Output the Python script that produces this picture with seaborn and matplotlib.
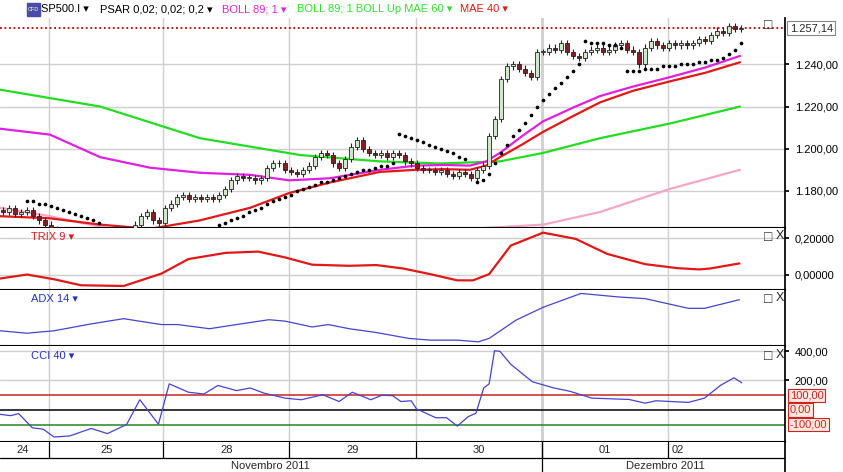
import numpy as np
import pandas as pd
import matplotlib
matplotlib.use("Agg")
import matplotlib.pyplot as plt
import seaborn as sns

sns.set_theme(style="white")
plt.rcParams["font.family"] = ["Liberation Sans", "DejaVu Sans"]

# ---------------- data ----------------
closes = [1170,1172,1169,1170,1171,1168,1166,1164,
          1162,1161,1160,1160,1159,1158,1158,1159,1160,1160,1161,1162,1161,1160,1164,1168,1170,1166,1165,
          1172,1174,1177,1178,1176,1177,1176,1177,1176,1178,1181,1185,1187,1186,1186,1185,1186,1191,1193,1193,1190,
          1189,1188,1190,1192,1196,1198,1197,1193,1191,1195,1201,1204,1200,1198,1197,1198,1196,1198,1197,1194,1193,
          1191,1190,1190,1189,1190,1188,1187,1189,1188,1186,1190,1192,1206,1214,1233,1239,1240,1238,1236,1234,1246,
          1246,1248,1247,1250,1246,1244,1243,1246,1247,1248,1246,1247,1249,1250,1247,1246,1240,1248,1251,1249,1248,
          1250,1249,1250,1249,1250,1252,1251,1254,1256,1255,1258,1257,1257]
first_open = 1171

ma_x = [-0.5,7.8,16.2,24.5,32.8,41.2,47.7,54.5,62.8,68.8,73.5,77.8,80.5,82.8,86.5,90,95,99.5,105,111.2,117,122.8]
mae40 = [1168,1167,1164,1162,1166,1172,1179,1184,1189,1190,1190.3,1190,1192,1196,1202,1208,1215.5,1222,1227.5,1232,1236,1241]
boll_mid = [1209.5,1206.7,1196,1191,1188.6,1187.6,1185,1186,1190,1192,1192.3,1192,1194,1198,1206,1213,1219.5,1225,1229.5,1234,1238.5,1244]
boll_up_x = [-0.5,16.2,32.8,49.5,62.8,72.8,82.8,90,99.5,111.2,122.8]
boll_up = [1228,1220,1205,1197,1194,1193,1194,1198,1205,1212,1220]
boll_low_x = [-0.5,7.8,16.2,24.5,77.8,90,99.5,111.2,122.8]
boll_low = [1172,1168,1163,1159,1162,1164,1170,1181,1190]

psar_segments = [
    (4, [1175,1175,1174,1174,1173,1172,1171,1170,1169,1168,1167,1166,1165]),
    (36, [1164,1165,1166,1167,1168,1170,1171,1172,1174,1175,1176,1177,1178,1180,1181,1182,1183,1184,1184,1185,
          1186,1187,1188,1189,1190,1190,1191,1192,1192,1193]),
    (66, [1207,1206,1205,1204,1203,1202,1201,1200,1199,1198,1196,1195]),
    (79, [1184,1185,1188,1193,1198,1202,1206,1209,1212,1216,1220,1223,1226,1229,1231,1234,1237,1240]),
    (97, [1251,1250,1250,1250,1249,1249,1248]),
    (104, [1237,1237,1237,1238,1238,1238,1239,1239,1239,1240,1240,1240,1241,1241,1242,1242,1243,1245,1247,1250]),
]

trix_x = [-0.5,4,8.5,13,20.1,26.4,30.9,37.1,42.5,47,51.5,57.7,62.2,66.7,71.2,75.7,78.3,81,84.6,90,95.4,100.7,107,112.4,116,117.8,122.7]
trix = [-0.022,0,-0.026,-0.059,-0.063,0.005,0.085,0.119,0.126,0.094,0.054,0.048,0.052,0.033,0.002,-0.032,-0.032,0.002,0.159,0.230,0.196,0.113,0.057,0.035,0.028,0.033,0.061]

adx_x = [-0.5,4,8.5,14.7,20.1,26.4,29.1,34.4,38.9,44.3,47,51.5,54.2,57.7,62.2,67.6,71.2,75.7,79.2,81,85.5,90,96.3,102.5,107,114.2,116.9,122.7]
adx = [11,9.25,11,16,19.75,15.5,15.5,12.5,15.5,19,18,13.75,15.5,12.5,9.75,5.5,4.25,4.25,3,5.5,18.75,28,38,35.5,34.25,27.25,27.25,33.5]

cci_x = [-0.5,1.3,2.6,4.9,6.7,8.5,11.1,14.7,17.4,20.6,22.8,25.9,27.7,30.9,33.5,35.8,38.9,41.2,43.4,47,49.7,53.3,56,58.2,61.3,63.1,64.9,66.3,68.0,68.9,72.1,73.9,75.7,77.5,78.8,80.1,81,81.9,82.8,84.6,88.2,91.8,94.5,98.1,104.3,107,108.8,114.2,116.9,119.6,121.8,123.1]
cci = [-30,-39,-25,-122,-131,-184,-177,-126,-161,-99,69,-97,177,120,108,166,131,149,115,80,69,103,57,120,69,99,97,57,62,7,-53,-53,-110,-46,-23,149,177,402,398,310,191,149,126,80,71,46,62,51,80,168,218,184]

day_bounds = [7.7,26.7,47.7,68.8,89.8,110.8]
day_labels = ["24","25","28","29","30","01","02"]
day_label_x = [3.2,17.2,37.2,58.2,79.2,100.2,112.5]
month_labels = ["Novembro 2011","Dezembro 2011"]
month_label_x = [44.5,110.3]

last_price = 1257.14
main_ticks = [1180,1200,1220,1240]

# ---------------- figure ----------------
W, H = 843, 472
fig = plt.figure(figsize=(W/100, H/100), dpi=100)
fig.patch.set_facecolor("white")
R = 785/W
def axbox(top, bot):
    return [0, 1-bot/H, R, (bot-top)/H]
ax = fig.add_axes(axbox(18, 228))
axt = fig.add_axes(axbox(228, 290), sharex=ax)
axa = fig.add_axes(axbox(290, 346), sharex=ax)
axc = fig.add_axes(axbox(346, 442), sharex=ax)
axd = fig.add_axes(axbox(442, 472), sharex=ax)
xlim = (-0.5, 130.3)
grid_c = "#cfcfcf"
FS = 8
for a in (ax, axt, axa, axc, axd):
    a.set_xlim(*xlim)
    a.set_xticks([])
    for s in a.spines.values():
        s.set_visible(False)
    a.spines["right"].set_visible(True)
    a.spines["right"].set_color("black")
    a.spines["bottom"].set_visible(True)
    a.spines["bottom"].set_color("black")
    a.spines["bottom"].set_linewidth(1.5)
    a.yaxis.tick_right()
    a.tick_params(axis="y", labelsize=FS, length=3, pad=4, colors="black")
    if a is not axd:
        for b in day_bounds:
            a.axvline(b, color=grid_c, lw=2 if b == 89.8 else 1, zorder=0)

# main
ax.set_ylim(1162.4, 1262)
for t in main_ticks:
    ax.axhline(t, color=grid_c, lw=1, zorder=0)
ax.set_yticks(main_ticks)
ax.set_yticklabels([f"1.{t-1000:03d},00" for t in main_ticks])
opens = [first_open] + closes[:-1]
for i, (o, c) in enumerate(zip(opens, closes)):
    up = c >= o
    lo, hi = min(o, c), max(o, c)
    ax.vlines(i, lo - 1.5, hi + 1.5, color="#222222", lw=0.8, zorder=3)
    ax.bar(i, max(hi - lo, 0.4), bottom=lo, width=0.65,
           color="#cfe8c8" if up else "#8b1c1c", edgecolor="#222222", lw=0.6, zorder=4)
sns.lineplot(x=boll_low_x, y=boll_low, ax=ax, color="#f4a6c8", lw=1.6, zorder=2)
sns.lineplot(x=boll_up_x, y=boll_up, ax=ax, color="#22dd22", lw=1.6, zorder=2)
sns.lineplot(x=ma_x, y=boll_mid, ax=ax, color="#e020e0", lw=1.6, zorder=2)
sns.lineplot(x=ma_x, y=mae40, ax=ax, color="#e01818", lw=1.6, zorder=2)
for start, vals in psar_segments:
    ax.scatter(np.arange(start, start + len(vals)), vals, s=7, color="black", zorder=5, linewidths=0)
ax.axhline(last_price, color="#c00000", lw=1.3, ls=(0, (1, 1.5)), zorder=1)
ax.text(1.006, (last_price - 1162.4)/(1262 - 1162.4), "1.257,14", transform=ax.transAxes,
        fontsize=FS, va="center", ha="left",
        bbox=dict(boxstyle="square,pad=0.2", fc="white", ec="#888888", lw=0.8))
legend = [("SP500.I ▾", "black", 41), ("PSAR 0,02; 0,02; 0,2 ▾", "black", 100),
          ("BOLL 89; 1 ▾", "#e020e0", 222), ("BOLL 89; 1 BOLL Up MAE 60 ▾", "#33dd33", 297),
          ("MAE 40 ▾", "#e01818", 460)]
for txt, col, px in legend:
    fig.text(px/W, 1-9/H, txt, color=col, fontsize=FS, va="center")
fig.patches.append(matplotlib.patches.Rectangle((27/W, 1-16/H), 13/W, 13/H, transform=fig.transFigure,
                                                color="#4a4aa8", zorder=5))
fig.text(33.5/W, 1-9.5/H, "CFD", color="white", fontsize=4, ha="center", va="center", zorder=6)
ax.text(0.978, 1.0, "□", transform=ax.transAxes, fontsize=10, va="top", ha="center")

# TRIX
axt.set_ylim(-0.085, 0.2556)
axt.set_yticks([0, 0.2])
axt.set_yticklabels(["0,00000", "0,20000"])
for t in [0, 0.2]:
    axt.axhline(t, color=grid_c, lw=1, zorder=0)
sns.lineplot(x=trix_x, y=trix, ax=axt, color="#e01818", lw=1.6)
axt.text(0.04, 0.86, "TRIX 9 ▾", transform=axt.transAxes, color="#e01818", fontsize=FS, va="center")

# ADX
axa.set_ylim(0, 40.5)
axa.set_yticks([])
sns.lineplot(x=adx_x, y=adx, ax=axa, color="#4444cc", lw=0.9)
axa.text(0.04, 0.84, "ADX 14 ▾", transform=axa.transAxes, color="#2233bb", fontsize=FS, va="center")

# CCI
axc.set_ylim(-218, 434)
axc.set_yticks([200, 400])
axc.set_yticklabels(["200,00", "400,00"])
axc.axhline(200, color=grid_c, lw=1, zorder=0)
axc.axhline(400, color=grid_c, lw=1, zorder=0)
axc.axhline(100, color="#cc2222", lw=1.1, zorder=1)
axc.axhline(0, color="black", lw=1.1, zorder=1)
axc.axhline(-100, color="#228822", lw=1.1, zorder=1)
sns.lineplot(x=cci_x, y=cci, ax=axc, color="#4444cc", lw=0.9, zorder=3)
axc.text(0.04, 0.9, "CCI 40 ▾", transform=axc.transAxes, color="#2233bb", fontsize=FS, va="center")
for v, lab in [(100, "100,00"), (0, "0,00"), (-100, "-100,00")]:
    axc.text(1.006, (v + 218)/652, lab, transform=axc.transAxes, color="#cc2222", fontsize=FS,
             va="center", ha="left", bbox=dict(boxstyle="square,pad=0.15", fc="#fde8e0", ec="#cc2222", lw=0.8))

for a in (axt, axa, axc):
    a.text(0.978, 0.97, "□", transform=a.transAxes, fontsize=10, va="top", ha="center")
    a.text(0.993, 0.97, "X", transform=a.transAxes, fontsize=9, va="top", ha="center")

# date axis
axd.set_ylim(0, 1)
axd.set_yticks([])
axd.spines["bottom"].set_visible(False)
for b in day_bounds:
    axd.plot([b, b], [0.47, 1], color="black", lw=0.9)
axd.axvline(89.8, color="black", lw=0.9)
axd.axhline(0.47, color="black", lw=0.9)
for lab, x in zip(day_labels, day_label_x):
    axd.text(x, 0.74, lab, fontsize=FS, ha="center", va="center")
for lab, x in zip(month_labels, month_label_x):
    axd.text(x, 0.2, lab, fontsize=FS, ha="center", va="center")

fig.savefig("out.png", dpi=100)
